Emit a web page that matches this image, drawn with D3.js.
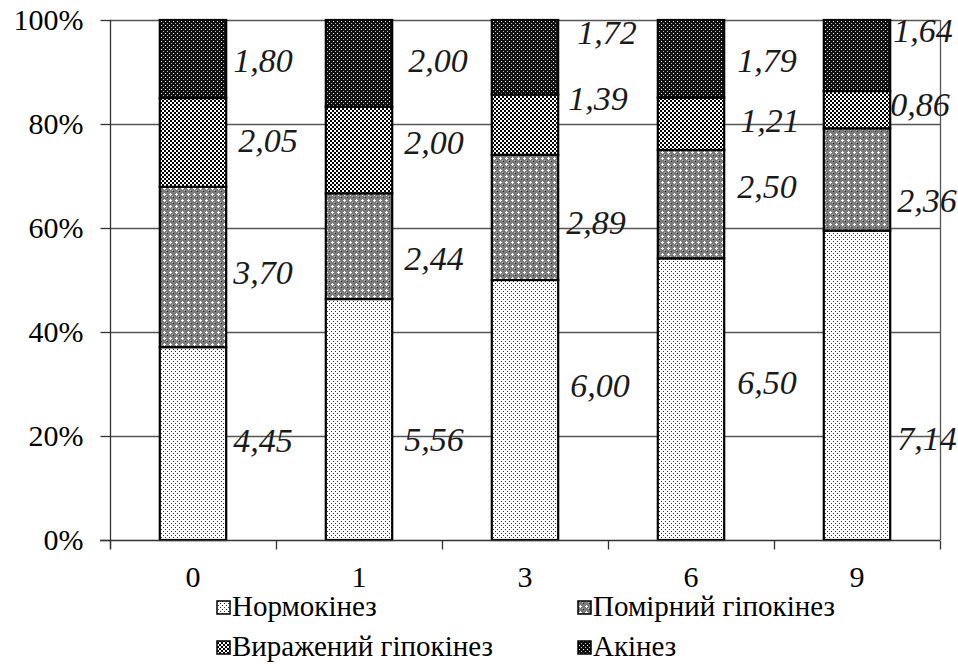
<!DOCTYPE html>
<html>
<head>
<meta charset="utf-8">
<script src="https://cdn.jsdelivr.net/npm/d3@7"></script>
<style>
  html, body { margin: 0; padding: 0; background: #fff; }
  svg { display: block; }
  svg text { font-family: 'Liberation Serif', 'Times New Roman', serif; }
</style>
</head>
<body>
<svg id="chart" width="958" height="666"></svg>
<script>
// ---- data ----
const categories = ["0", "1", "3", "6", "9"];
const seriesNames = ["Нормокінез", "Помірний гіпокінез", "Виражений гіпокінез", "Акінез"];
const normokinez = [4.45, 5.56, 6.00, 6.50, 7.14];
const pomirnyi   = [3.70, 2.44, 2.89, 2.50, 2.36];
const vyrazhenyi = [2.05, 2.00, 1.39, 1.21, 0.86];
const akinez     = [1.80, 2.00, 1.72, 1.79, 1.64];
const yTicks = [0, 0.2, 0.4, 0.6, 0.8, 1.0];

// label placement tweaks (layout only): [dx, dy] per category, per series
const labelNudge = [
  [[7, -3], [7, 5], [12, -2], [7, 1]],
  [[12, 20], [12, 12], [12, -8], [16, -3]],
  [[12, -25], [8, 5], [10, -27], [19, -25]],
  [[13, -17], [13, -18], [16, -4], [13, 1]],
  [[7, 53], [7, 21], [0, -6], [3, -25]]
];

const seriesValues = [normokinez, pomirnyi, vyrazhenyi, akinez];
const FONT = "'Liberation Serif', 'Times New Roman', serif";

const svg = d3.select("#chart");
const margin = { left: 110, right: 18, top: 20, bottom: 126 };
const W = 958, H = 666;
const x0 = margin.left, x1 = W - margin.right, yTop = margin.top, yBot = H - margin.bottom;

// ---- patterns ----
const defs = svg.append("defs");
function pat(id, size, bg, cells) {
  const p = defs.append("pattern").attr("id", id).attr("patternUnits", "userSpaceOnUse")
    .attr("width", size).attr("height", size);
  p.append("rect").attr("width", size).attr("height", size).attr("fill", bg);
  cells.forEach(c => p.append("rect").attr("x", c[0]).attr("y", c[1])
    .attr("width", c[2]).attr("height", c[3]).attr("fill", c[4]));
}
pat("p0", 4, "#ffffff", [[1,1,1,1,"#333"],[3,3,1,1,"#333"]]);
pat("p1", 6, "#7c7c7c", [[2,1,1,3,"#ffffff"],[1,2,3,1,"#ffffff"],[5,5,1,1,"#222"],[4,4,1,1,"#bbb"]]);
pat("p2", 4, "#000000", [[0,0,2,2,"#ffffff"],[2,2,2,2,"#ffffff"]]);
pat("p3", 4, "#111111", [[1,1,1,1,"#ffffff"],[3,3,1,1,"#bbbbbb"]]);
const fills = ["url(#p0)", "url(#p1)", "url(#p2)", "url(#p3)"];

// ---- stack data ----
const table = categories.map((c, i) => {
  const row = { cat: c };
  seriesNames.forEach((s, k) => row[s] = seriesValues[k][i]);
  return row;
});
const stacked = d3.stack().keys(seriesNames).offset(d3.stackOffsetExpand)(table);

// ---- scales ----
const x = d3.scaleBand().domain(categories).range([x0, x1]).padding(0);
const y = d3.scaleLinear().domain([0, 1]).range([yBot, yTop]);
const barW = x.bandwidth() * 0.4;

// gridlines
svg.append("g").selectAll("line").data(yTicks.filter(t => t > 0)).join("line")
  .attr("x1", x0).attr("x2", x1)
  .attr("y1", d => Math.round(y(d)) + 0.5).attr("y2", d => Math.round(y(d)) + 0.5)
  .attr("stroke", "#555").attr("stroke-width", 1.3);
// right border
svg.append("line").attr("x1", x1 + 0.5).attr("x2", x1 + 0.5).attr("y1", yTop).attr("y2", yBot)
  .attr("stroke", "#555").attr("stroke-width", 1.3);

// bars
const groups = svg.append("g").selectAll("g").data(stacked).join("g")
  .attr("fill", (d, i) => fills[i]);
groups.selectAll("rect").data(d => d).join("rect")
  .attr("x", d => x(d.data.cat) + (x.bandwidth() - barW) / 2)
  .attr("y", d => y(d[1]))
  .attr("width", barW)
  .attr("height", d => y(d[0]) - y(d[1]))
  .attr("stroke", "#000").attr("stroke-width", 2.2);

// y axis
const yAxis = svg.append("g").attr("transform", `translate(${x0 + 0.5},0)`)
  .call(d3.axisLeft(y).tickValues(yTicks).tickFormat(d3.format(".0%")).tickSize(10).tickPadding(17));
yAxis.attr("font-family", null);
yAxis.select(".domain").attr("d", `M0,${yTop}V${yBot + 9}`).attr("stroke", "#333").attr("stroke-width", 1.3);
yAxis.selectAll(".tick line").attr("stroke", "#333").attr("stroke-width", 1.3);
yAxis.selectAll("text").style("font-family", FONT)
  .style("font-size", "30px").attr("fill", "#000");

// x axis
const xAxis = svg.append("g").attr("transform", `translate(0,${yBot + 0.5})`)
  .call(d3.axisBottom(x).tickSize(0));
xAxis.attr("font-family", null);
xAxis.select(".domain").attr("d", `M${x0 - 10},0H${x1}`).attr("stroke", "#333").attr("stroke-width", 1.3);
xAxis.selectAll("text").style("font-family", FONT)
  .style("font-size", "30px").attr("fill", "#000").attr("y", 46).attr("dy", 0);
// boundary tick marks between categories
const bounds = categories.map(c => x(c)).concat([x1]);
xAxis.append("g").selectAll("line").data(bounds).join("line")
  .attr("x1", d => Math.round(d) + 0.5).attr("x2", d => Math.round(d) + 0.5)
  .attr("y1", 0).attr("y2", 9).attr("stroke", "#333").attr("stroke-width", 1.3);

// data labels
const labelG = svg.append("g");
stacked.forEach((layer, k) => {
  layer.forEach((d, i) => {
    const v = seriesValues[k][i];
    const nudge = labelNudge[i][k];
    labelG.append("text")
      .attr("x", x(d.data.cat) + (x.bandwidth() + barW) / 2 + nudge[0])
      .attr("y", (y(d[0]) + y(d[1])) / 2 + nudge[1])
      .attr("dy", "0.35em")
      .style("font-family", FONT)
      .style("font-style", "italic").style("font-size", "34px").attr("fill", "#1a1a1a")
      .text(d3.format(".2f")(v).replace(".", ","));
  });
});

// legend
const legendPos = [[217, 616], [578, 616], [217, 656], [578, 656]];
const leg = svg.append("g").selectAll("g").data(seriesNames).join("g")
  .attr("transform", (d, i) => `translate(${legendPos[i][0]},${legendPos[i][1]})`);
leg.append("rect").attr("x", 0).attr("y", -15).attr("width", 13).attr("height", 13)
  .attr("fill", (d, i) => fills[i]).attr("stroke", "#000").attr("stroke-width", 1.5);
leg.append("text").attr("x", 15).attr("y", 0)
  .style("font-family", FONT).style("font-size", "29px")
  .attr("fill", "#000").text(d => d);
</script>
</body>
</html>
